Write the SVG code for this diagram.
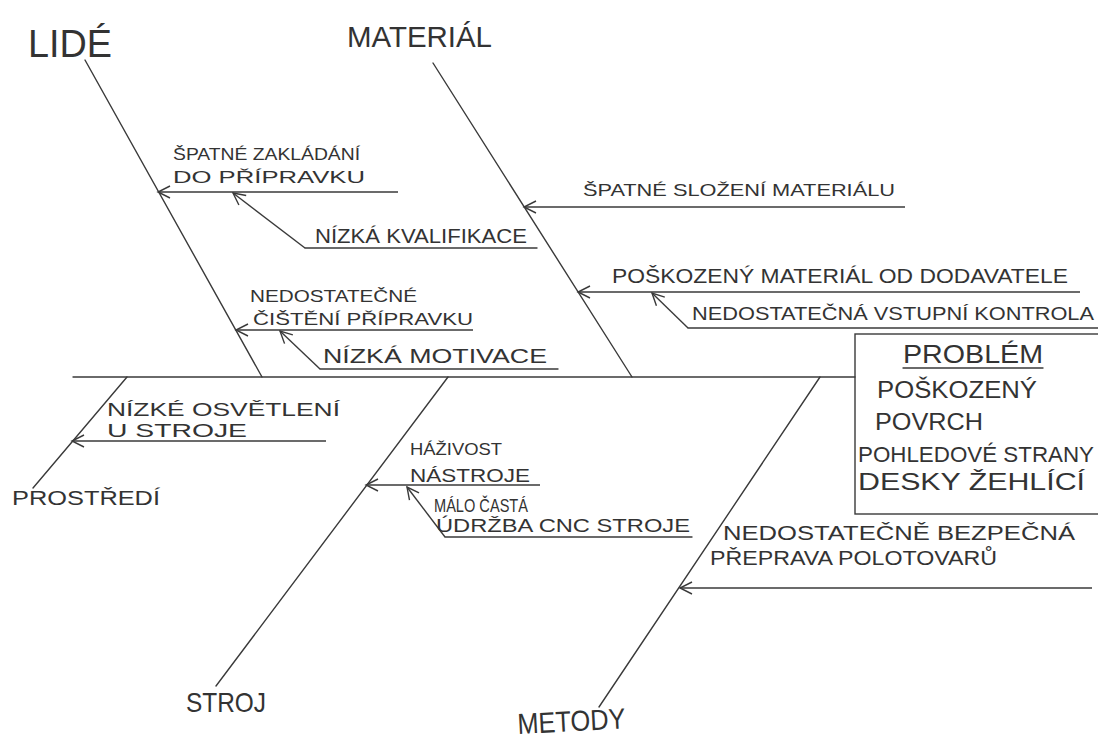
<svg xmlns="http://www.w3.org/2000/svg" width="1098" height="738" viewBox="0 0 1098 738">
  <defs>
    <style>
      .ln{stroke:#3a3a3a;stroke-width:1.4;fill:none;stroke-linecap:round}
      .ar{stroke:#3a3a3a;stroke-width:1.4;fill:none;marker-end:url(#ah)}
      .t{font-family:"Liberation Sans",Arial,sans-serif;fill:#333333;font-weight:normal}
    </style>
    <marker id="ah" markerUnits="userSpaceOnUse" markerWidth="16" markerHeight="16" viewBox="0 0 16 16" refX="14" refY="8" orient="auto">
      <path d="M2,2 L14,8 L2,14" fill="none" stroke="#3a3a3a" stroke-width="1.4"/>
    </marker>
  </defs>
  <rect width="1098" height="738" fill="#ffffff"/>

  <g id="connectors">
    <line class="ln" x1="73" y1="377" x2="855" y2="377"/>
    <line class="ln" x1="85" y1="60" x2="262" y2="377"/>
    <line class="ln" x1="433" y1="63" x2="632" y2="377"/>
    <line class="ln" x1="127" y1="377" x2="33" y2="488"/>
    <line class="ln" x1="448" y1="377" x2="216" y2="686"/>
    <line class="ln" x1="820" y1="377" x2="599" y2="707"/>

    <line class="ar" x1="398" y1="192" x2="158" y2="192"/>
    <line class="ln" x1="305" y1="248" x2="537" y2="248"/>
    <line class="ar" x1="305" y1="248" x2="233" y2="193"/>

    <line class="ar" x1="473" y1="330" x2="236" y2="330"/>
    <line class="ln" x1="320" y1="369" x2="558" y2="369"/>
    <line class="ar" x1="320" y1="369" x2="280" y2="331"/>

    <line class="ar" x1="905" y1="207" x2="524" y2="207"/>
    <line class="ar" x1="1080" y1="292" x2="578" y2="292"/>
    <line class="ln" x1="688" y1="328" x2="1098" y2="328"/>
    <line class="ar" x1="688" y1="328" x2="652" y2="293"/>

    <line class="ar" x1="326" y1="441" x2="72" y2="441"/>

    <line class="ar" x1="540" y1="485" x2="366" y2="485"/>
    <line class="ln" x1="445" y1="537" x2="692" y2="537"/>
    <line class="ar" x1="445" y1="537" x2="407" y2="487"/>

    <line class="ar" x1="1092" y1="588" x2="680" y2="588"/>
  </g>

  <g id="lide">
    <text class="t" x="28" y="57" font-size="38" textLength="84" lengthAdjust="spacingAndGlyphs">LIDÉ</text>
  </g>
  <g id="material">
    <text class="t" x="347" y="47" font-size="30" textLength="145" lengthAdjust="spacingAndGlyphs">MATERIÁL</text>
  </g>
  <g id="prostredi">
    <text class="t" x="12" y="505" font-size="20" textLength="148" lengthAdjust="spacingAndGlyphs">PROSTŘEDÍ</text>
  </g>
  <g id="stroj">
    <text class="t" x="186" y="712" font-size="28" textLength="80" lengthAdjust="spacingAndGlyphs">STROJ</text>
  </g>
  <g id="metody">
    <text class="t" x="518" y="734" font-size="29" textLength="108" lengthAdjust="spacingAndGlyphs" transform="rotate(-3 518 734)">METODY</text>
  </g>

  <g id="spatne-zakladani">
    <text class="t" x="173" y="160" font-size="17" textLength="187" lengthAdjust="spacingAndGlyphs">ŠPATNÉ ZAKLÁDÁNÍ</text>
    <text class="t" x="173" y="183" font-size="17" textLength="192" lengthAdjust="spacingAndGlyphs">DO  PŘÍPRAVKU</text>
  </g>
  <g id="nizka-kvalifikace">
    <text class="t" x="315" y="243" font-size="20" textLength="212" lengthAdjust="spacingAndGlyphs">NÍZKÁ KVALIFIKACE</text>
  </g>
  <g id="nedostatecne-cisteni">
    <text class="t" x="250" y="302" font-size="17" textLength="167" lengthAdjust="spacingAndGlyphs">NEDOSTATEČNÉ</text>
    <text class="t" x="253" y="325" font-size="17" textLength="220" lengthAdjust="spacingAndGlyphs">ČIŠTĚNÍ PŘÍPRAVKU</text>
  </g>
  <g id="nizka-motivace">
    <text class="t" x="323" y="363" font-size="20" textLength="224" lengthAdjust="spacingAndGlyphs">NÍZKÁ MOTIVACE</text>
  </g>

  <g id="spatne-slozeni">
    <text class="t" x="583" y="196" font-size="17" textLength="312" lengthAdjust="spacingAndGlyphs">ŠPATNÉ SLOŽENÍ MATERIÁLU</text>
  </g>
  <g id="poskozeny-material">
    <text class="t" x="612" y="283" font-size="20" textLength="456" lengthAdjust="spacingAndGlyphs">POŠKOZENÝ MATERIÁL OD DODAVATELE</text>
  </g>
  <g id="vstupni-kontrola">
    <text class="t" x="692" y="320" font-size="19" textLength="402" lengthAdjust="spacingAndGlyphs">NEDOSTATEČNÁ VSTUPNÍ KONTROLA</text>
  </g>

  <g id="nizke-osvetleni">
    <text class="t" x="107" y="416" font-size="18" textLength="233" lengthAdjust="spacingAndGlyphs">NÍZKÉ OSVĚTLENÍ</text>
    <text class="t" x="107" y="437" font-size="18" textLength="140" lengthAdjust="spacingAndGlyphs">U STROJE</text>
  </g>

  <g id="zivost-nastroje">
    <text class="t" x="410" y="455" font-size="17" textLength="92" lengthAdjust="spacingAndGlyphs">HÁŽIVOST</text>
    <text class="t" x="410" y="482" font-size="19" textLength="120" lengthAdjust="spacingAndGlyphs">NÁSTROJE</text>
  </g>
  <g id="udrzba-cnc">
    <text class="t" x="434" y="512" font-size="19" textLength="94" lengthAdjust="spacingAndGlyphs">MÁLO ČASTÁ</text>
    <text class="t" x="436" y="532" font-size="18" textLength="254" lengthAdjust="spacingAndGlyphs">ÚDRŽBA CNC STROJE</text>
  </g>

  <g id="preprava">
    <text class="t" x="723" y="540" font-size="20" textLength="352" lengthAdjust="spacingAndGlyphs">NEDOSTATEČNĚ BEZPEČNÁ</text>
    <text class="t" x="710" y="565" font-size="20" textLength="287" lengthAdjust="spacingAndGlyphs">PŘEPRAVA POLOTOVARŮ</text>
  </g>

  <g id="problem">
    <rect x="855" y="334" width="260" height="180" fill="none" stroke="#3a3a3a" stroke-width="1.4"/>
    <text class="t" x="903" y="363" font-size="25" textLength="140" lengthAdjust="spacingAndGlyphs">PROBLÉM</text>
    <line class="ln" x1="903" y1="368" x2="1043" y2="368"/>
    <text class="t" x="877" y="398" font-size="24" textLength="160" lengthAdjust="spacingAndGlyphs">POŠKOZENÝ</text>
    <text class="t" x="875" y="430" font-size="24" textLength="108" lengthAdjust="spacingAndGlyphs">POVRCH</text>
    <text class="t" x="858" y="462" font-size="22" textLength="236" lengthAdjust="spacingAndGlyphs">POHLEDOVÉ STRANY</text>
    <text class="t" x="858" y="490" font-size="24" textLength="227" lengthAdjust="spacingAndGlyphs">DESKY ŽEHLÍCÍ</text>
  </g>
</svg>
